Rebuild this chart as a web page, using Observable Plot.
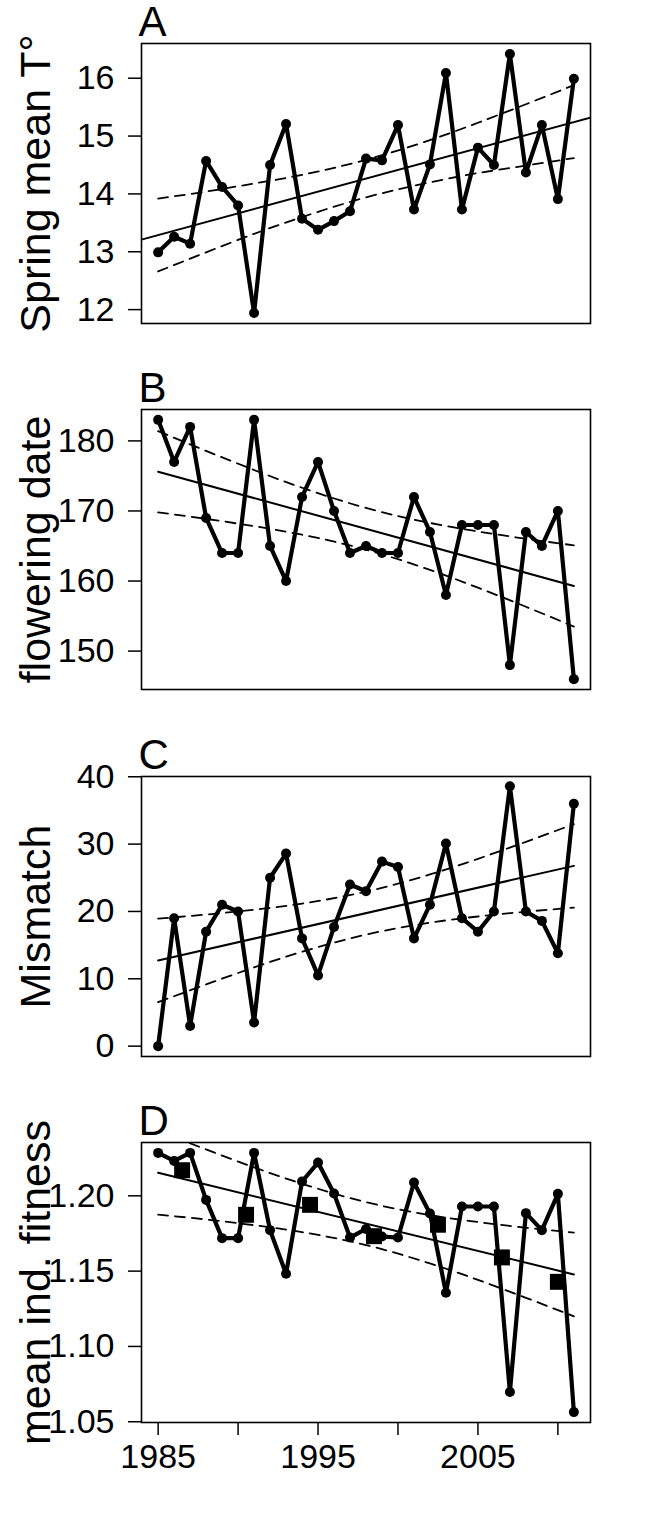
<!DOCTYPE html>
<html>
<head>
<meta charset="utf-8">
<script src="https://cdn.jsdelivr.net/npm/d3@7"></script>
<script src="https://cdn.jsdelivr.net/npm/@observablehq/plot@0.6"></script>
<style>
html, body { margin: 0; padding: 0; background: #fff; }
#chart { width: 652px; }
#chart svg { display: block; }
</style>
</head>
<body>
<div id="chart"></div>
<script>
// ---- data ----
const years = [1985,1986,1987,1988,1989,1990,1991,1992,1993,1994,1995,1996,1997,1998,1999,2000,2001,2002,2003,2004,2005,2006,2007,2008,2009,2010,2011];
const springTemp = [12.99,13.26,13.14,14.57,14.12,13.80,11.94,14.50,15.21,13.57,13.38,13.53,13.70,14.61,14.58,15.19,13.73,14.51,16.09,13.73,14.80,14.50,16.42,14.37,15.19,13.91,15.99];
const floweringDate = [183,177,182,169,164,164,183,165,160,172,177,170,164,165,164,164,172,167,158,168,168,168,148,167,165,170,146];
const mismatch = [0,19,3,17,21,20,3.5,25,28.6,16,10.5,17.7,24,23,27.4,26.6,16,21,30.1,19,17,20,38.6,20,18.6,13.8,36];
const fitness = [1.2285,1.2232,1.2285,1.1973,1.1719,1.1719,1.2285,1.1772,1.1482,1.2095,1.2221,1.2015,1.1723,1.1780,1.1730,1.1723,1.2088,1.1883,1.1356,1.1929,1.1929,1.1929,1.0697,1.1885,1.1772,1.2013,1.0564];

const squareYears = [1986.5,1990.5,1994.5,1998.5,2002.5,2006.5,2010];
const squareFitness = [1.2170,1.1874,1.1940,1.1732,1.1808,1.1591,1.1429];

// regression lines (solid)
const trendYearsA = [1983.96, 2012.04];
const trendA = [13.21, 15.32];
const trendYears = [1985, 2011];
const trendB = [175.6, 159.3];
const trendC = [12.73, 26.77];
const trendD = [1.2153, 1.1478];

// confidence bands (dashed)
const bandYears = [1985,1988,1991,1994,1998,2002,2005,2008,2011];
const upperA = [13.92,14.04,14.18,14.33,14.59,14.93,15.23,15.55,15.88];
const lowerA = [12.66,12.99,13.31,13.60,13.94,14.20,14.36,14.49,14.62];
const upperB = [181.4,178.57,175.85,173.31,170.43,168.29,167.07,166.03,165.1];
const lowerB = [169.8,168.87,167.83,166.61,164.47,161.59,159.05,156.33,153.5];
const upperC = [18.93,19.54,20.25,21.17,22.94,25.49,27.81,30.34,32.97];
const lowerC = [6.53,9.16,11.69,14.01,16.56,18.33,19.25,19.96,20.57];
const upperD = [1.2431,1.2308,1.2189,1.2080,1.1958,1.1872,1.1826,1.1788,1.1756];
const lowerD = [1.1875,1.1843,1.1805,1.1759,1.1673,1.1551,1.1442,1.1323,1.1200];

// axes
const xTicks = [1985,1990,1995,2000,2005,2010];
const xTickLabels = [1985,1995,2005];
const yTicksA = [12,13,14,15,16];
const yTicksB = [150,160,170,180];
const yTicksC = [0,10,20,30,40];
const yTicksD = [1.05,1.10,1.15,1.20];

const letters = ["A","B","C","D"];
const titles = ["Spring mean T°","flowering date","Mismatch","mean ind. fitness"];

// ---- drawing ----
const FONT = "'Liberation Sans', Arial, Helvetica, sans-serif";
const xDomain = [1983.96, 2012.04];

function pairs(xs, ys) { return xs.map((x, i) => ({year: x, v: ys[i]})); }

function panel(o) {
  const pts = pairs(years, o.values);
  const height = o.marginTop + 280 + o.marginBottom;
  const marks = [
    Plot.line(pairs(bandYears, o.upper), {x: "year", y: "v", stroke: "black", strokeWidth: 1.8, strokeDasharray: "10,7", curve: "natural", clip: true}),
    Plot.line(pairs(bandYears, o.lower), {x: "year", y: "v", stroke: "black", strokeWidth: 1.8, strokeDasharray: "10,7", curve: "natural", clip: true}),
    Plot.line(pairs(o.tYears, o.trend), {x: "year", y: "v", stroke: "black", strokeWidth: 2, clip: true}),
    Plot.line(pts, {x: "year", y: "v", stroke: "black", strokeWidth: 4.2}),
    Plot.dot(pts, {x: "year", y: "v", r: 5, fill: "black"}),
    ...(o.extra || []),
    Plot.frame({stroke: "black", strokeWidth: 1.6}),
    Plot.axisY({ticks: o.yTicks, tickSize: 13, tickPadding: 14, tickFormat: o.yFormat, label: null, strokeWidth: 1.5}),
    Plot.text([o.letter], {text: d => d, frameAnchor: "top-left", dx: -3, dy: -8, lineAnchor: "bottom", textAnchor: "start", fontSize: 42}),
    Plot.text([o.title], {text: d => d, frameAnchor: "left", dx: -92, rotate: -90, lineAnchor: "bottom", textAnchor: "middle", fontSize: 43})
  ];
  if (o.xAxis) {
    marks.push(Plot.axisX({ticks: xTicks, tickSize: 13, tickPadding: 8, tickFormat: d => xTickLabels.includes(d) ? String(d) : "", label: null, strokeWidth: 1.5}));
  }
  return Plot.plot({
    width: 652,
    height,
    marginLeft: 141,
    marginRight: 62,
    marginTop: o.marginTop,
    marginBottom: o.marginBottom,
    style: {fontFamily: FONT, fontSize: "34px", color: "black", background: "white", overflow: "visible"},
    x: o.xAxis ? {domain: xDomain} : {domain: xDomain, axis: null},
    y: {domain: o.yDomain},
    marks
  });
}

const chart = document.getElementById("chart");
chart.append(panel({letter: letters[0], title: titles[0], values: springTemp, tYears: trendYearsA, trend: trendA, upper: upperA, lower: lowerA,
  yDomain: [11.76, 16.60], yTicks: yTicksA, yFormat: d => String(d), marginTop: 43, marginBottom: 43}));
chart.append(panel({letter: letters[1], title: titles[1], values: floweringDate, tYears: trendYears, trend: trendB, upper: upperB, lower: lowerB,
  yDomain: [144.52, 184.48], yTicks: yTicksB, yFormat: d => String(d), marginTop: 43, marginBottom: 43}));
chart.append(panel({letter: letters[2], title: titles[2], values: mismatch, tYears: trendYears, trend: trendC, upper: upperC, lower: lowerC,
  yDomain: [-1.54, 40.04], yTicks: yTicksC, yFormat: d => String(d), marginTop: 44, marginBottom: 42}));
chart.append(panel({letter: letters[3], title: titles[3], values: fitness, tYears: trendYears, trend: trendD, upper: upperD, lower: lowerD,
  yDomain: [1.0495, 1.2354], yTicks: yTicksD, yFormat: d3.format(".2f"), marginTop: 44, marginBottom: 96, xAxis: true,
  extra: [Plot.dot(pairs(squareYears, squareFitness), {x: "year", y: "v", symbol: "square", r: 9, fill: "black"})]}));
</script>
</body>
</html>
